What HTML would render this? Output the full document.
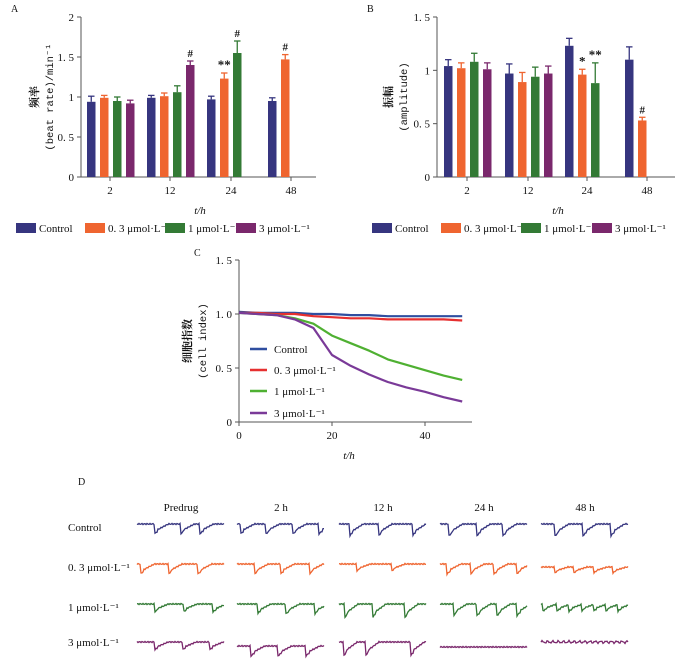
<!DOCTYPE html>
<html><head><meta charset="utf-8">
<style>
html,body{margin:0;padding:0;background:#fff;}
svg{display:block;font-family:"Liberation Serif","Noto Serif CJK SC",serif;}
</style></head>
<body>
<svg id="fig" width="700" height="668" viewBox="0 0 700 668"></svg>
<script>
const colors=['#36357f','#ef6530','#337a35','#7a286c'];
const seriesNames=['Control','0. 3 μmol·L⁻¹','1 μmol·L⁻¹','3 μmol·L⁻¹'];
const groups=['2','12','24','48'];
// Panel A: beat rate means / sem / marks
const rateControl=[0.94,0.99,0.97,0.95];
const rate03=[0.99,1.01,1.23,1.47];
const rate1=[0.95,1.06,1.55,null];
const rate3=[0.92,1.40,null,null];
const rateErrC=[0.07,0.03,0.04,0.04];
const rateErr03=[0.03,0.04,0.07,0.06];
const rateErr1=[0.05,0.08,0.15,0];
const rateErr3=[0.04,0.05,0,0];
const rateMarks03=['','','**','#'];
const rateMarks1=['','','#',''];
const rateMarks3=['','#','',''];
const rateTicks=['0','0. 5','1','1. 5','2'];
// Panel B: amplitude
const ampControl=[1.04,0.97,1.23,1.10];
const amp03=[1.02,0.89,0.96,0.53];
const amp1=[1.08,0.94,0.88,null];
const amp3=[1.01,0.97,null,null];
const ampErrC=[0.06,0.09,0.07,0.12];
const ampErr03=[0.05,0.09,0.05,0.03];
const ampErr1=[0.08,0.09,0.19,0];
const ampErr3=[0.06,0.07,0,0];
const ampMarks03=['','','*','#'];
const ampMarks1=['','','**',''];
const ampTicks=['0','0. 5','1','1. 5'];
// Panel C: cell index
const ciTime=[0,4,8,12,16,20,24,28,32,36,40,44,48];
const ciControl=[1.02,1.01,1.01,1.01,1.0,1.0,0.99,0.99,0.98,0.98,0.98,0.98,0.98];
const ci03=[1.01,1.01,1.0,1.0,0.98,0.97,0.96,0.96,0.95,0.95,0.95,0.95,0.94];
const ci1=[1.01,1.0,0.99,0.96,0.91,0.80,0.73,0.66,0.58,0.53,0.48,0.43,0.39];
const ci3=[1.01,1.0,0.99,0.95,0.87,0.62,0.52,0.44,0.37,0.32,0.28,0.23,0.19];
const ciColors=['#2f4ea0','#e63030','#4fb032','#7a3a98'];

const svg=document.getElementById('fig');
const NS='http://www.w3.org/2000/svg';
function el(tag,attrs,parent){const e=document.createElementNS(NS,tag);for(const k in attrs)e.setAttribute(k,attrs[k]);(parent||svg).appendChild(e);return e;}
function txt(s,x,y,size,anchor,parent,extra){const t=el('text',Object.assign({x:x,y:y,'font-size':size,'text-anchor':anchor||'middle',fill:'#111'},extra||{}),parent);t.textContent=s;return t;}

function barPanel(name,ox,axisEnd,y0,yTop,maxV,ticks,data,errs,marks,groupStarts,tickX,letter,ytitle1,ytitle2,ylx){
  const g=el('g',{});
  
  
  const ys=v=>y0-(v/maxV)*(y0-yTop);
  txt(letter,ox-70,12,10,'start',g);
  el('line',{x1:ox,y1:yTop,x2:ox,y2:y0,stroke:'#555','stroke-width':1},g);
  el('line',{x1:ox,y1:y0,x2:axisEnd,y2:y0,stroke:'#555','stroke-width':1},g);
  ticks.forEach((t,i)=>{const y=ys(i*maxV/(ticks.length-1));el('line',{x1:ox-4,y1:y,x2:ox,y2:y,stroke:'#555'},g);const tl=txt(t,ox-7,y+4,11,'end',g);});
  groups.forEach((gname,i)=>{el('line',{x1:tickX[i],y1:y0,x2:tickX[i],y2:y0+4,stroke:'#555'},g);const tl=txt(gname,tickX[i],y0+17,11,'middle',g);});
  data.forEach((ser,s)=>{ser.forEach((v,i)=>{if(v==null)return;const x=groupStarts[i]+s*13;const bw=8.5;
    const r=el('rect',{x:x,y:ys(v),width:bw,height:y0-ys(v),fill:colors[s]},g);
    
    const e=errs[s][i];if(e>0){const ye=ys(v+e);el('line',{x1:x+bw/2,y1:ys(v),x2:x+bw/2,y2:ye,stroke:colors[s],'stroke-width':1.3},g);el('line',{x1:x+1,y1:ye,x2:x+bw-1,y2:ye,stroke:colors[s],'stroke-width':1.3},g);}
    const m=marks[s]&&marks[s][i];if(m){const mt=txt(m,x+bw/2,ys(v+e)-4,m=='#'?11:13,'middle',g,{'font-weight':'bold'});}
  });});
  const xt=txt('t/h',tickX[1]+30,y0+37,11,'middle',g,{'font-style':'italic'});
  const yt=el('text',{transform:`translate(${ylx},${(y0+yTop)/2}) rotate(-90)`,'text-anchor':'middle','font-size':11,fill:'#111'},g);
  
  const t1=el('tspan',{x:0,dy:0,'font-weight':'bold'},yt);t1.textContent=ytitle1;
  const t2=el('tspan',{x:0,dy:15,'font-family':'Liberation Mono, monospace','font-size':10.5},yt);t2.textContent=ytitle2;
  // legend
  const lx=[ox-65,ox+4,ox+84,ox+155];
  seriesNames.forEach((n,s)=>{const le=el('g',{},g);
    el('rect',{x:lx[s],y:223,width:20,height:10,fill:colors[s]},le);txt(n,lx[s]+23,232,11,'start',le);});
}
barPanel('panel-a-beat-rate',81,316,177,17,2,rateTicks,[rateControl,rate03,rate1,rate3],[rateErrC,rateErr03,rateErr1,rateErr3],[null,rateMarks03,rateMarks1,rateMarks3],[87,147,207,268],[110,170,231,291],'A','频率','(beat rate)/min⁻¹',38);
barPanel('panel-b-amplitude',437,675,177,17,1.5,ampTicks,[ampControl,amp03,amp1,amp3],[ampErrC,ampErr03,ampErr1,ampErr3],[null,ampMarks03,ampMarks1,null],[444,505,565,625],[467,528,587,647],'B','振幅','(amplitude)',392);

// Panel C
(function(){
  const g=el('g',{});
  const x0=239,y0=422,yTop=260;const xs=t=>x0+t*(425-x0)/40;const ys=v=>y0-v*(y0-yTop)/1.5;
  txt('C',194,256,10,'start',g);
  el('line',{x1:x0,y1:yTop,x2:x0,y2:y0,stroke:'#555'},g);el('line',{x1:x0,y1:y0,x2:472,y2:y0,stroke:'#555'},g);
  ['0','0. 5','1. 0','1. 5'].forEach((t,i)=>{const y=ys(i*0.5);el('line',{x1:x0-4,y1:y,x2:x0,y2:y,stroke:'#555'},g);const tl=txt(t,x0-7,y+4,11,'end',g);});
  [0,20,40].forEach(t=>{el('line',{x1:xs(t),y1:y0,x2:xs(t),y2:y0+4,stroke:'#555'},g);const tl=txt(String(t),xs(t),y0+17,11,'middle',g);});
  const xt=txt('t/h',349,459,11,'middle',g,{'font-style':'italic'});
  const yt=el('text',{transform:`translate(191,341) rotate(-90)`,'text-anchor':'middle','font-size':11,fill:'#111'},g);
  const a=el('tspan',{x:0,dy:0,'font-weight':'bold'},yt);a.textContent='细胞指数';const b=el('tspan',{x:0,dy:15,'font-family':'Liberation Mono, monospace','font-size':10.5},yt);b.textContent='(cell index)';
  [ciControl,ci03,ci1,ci3].forEach((ser,s)=>{const d=ser.map((v,i)=>(i?'L':'M')+xs(ciTime[i]).toFixed(1)+','+ys(v).toFixed(1)).join(' ');
    const p=el('path',{d:d,fill:'none',stroke:ciColors[s],'stroke-width':2.2,'stroke-linejoin':'round'},g);});
  [349,370,391,413].forEach((y,s)=>{const le=el('g',{},g);
    el('line',{x1:250,y1:y,x2:267,y2:y,stroke:ciColors[s],'stroke-width':2.5},le);txt(seriesNames[s],274,y+4,11,'start',le);});
})();

// Panel D traces
const colHeads=['Predrug','2 h','12 h','24 h','48 h'];
const colX=[137,237,339,440,541];
const rowY=[527,567,607,645];
const dipPos=[ // dip positions as fractions of trace width per row/column
 [[0.2,0.5,0.72],[0.04,0.33,0.64,0.94],[0.12,0.45,0.84],[0.1,0.42,0.72],[0.16,0.48,0.8]],
 [[0.04,0.36,0.7],[0.2,0.5,0.83],[0.2,0.6],[0.08,0.35,0.62,0.88],[0.15,0.37,0.6,0.82]],
 [[0.2,0.53,0.87],[0.23,0.56,0.89],[0.06,0.38,0.75],[0.15,0.42,0.65,0.88],[0.02,0.18,0.32,0.46,0.6,0.74,0.88]],
 [[0.2,0.52,0.83],[0.16,0.47,0.79],[0.05,0.3,0.82],[],[]]];
const dipDepth=[[10,10,12,12,12],[10,10,7,10,6],[8,10,14,12,7],[8,10,14,0,0]];
(function(){
  const g=el('g',{});
  txt('D',78,485,10,'start',g);
  colHeads.forEach((h,i)=>{const t=txt(h,colX[i]+44,511,11,'middle',g);});
  seriesNames.forEach((n,r)=>{const t=txt(n,68,rowY[r]+4-(r==3?3:0),11,'start',g);});
  rowY.forEach((y,r)=>colX.forEach((x,c)=>{
    let d='';const W=87;const dips=dipPos[r][c];const dep=dipDepth[r][c];
    const base=y-3+(c==4&&r==1?3:0)+(r==3&&c==1?4:0)+(r==3&&c==3?5:0);
    for(let i=0;i<=W;i++){const f=i/W;let v=0;
      dips.forEach(p=>{const dx=f-p;if(dx>=0&&dx<0.04)v+=dep*(1-dx/0.04*0.3);else if(dx>=0.04&&dx<0.16)v+=dep*0.55*(1-(dx-0.04)/0.12);});
      const n=Math.sin(i*2.3+r*1.7+c)*0.6+(r==3&&c==4?Math.sin(i*5.1)*1.0:0);
      d+=(i?'L':'M')+(x+i)+','+(base+v+n).toFixed(1);}
    const p=el('path',{d:d,fill:'none',stroke:colors[r],'stroke-width':1.3},g);
  }));
})();
</script>
</body></html>
